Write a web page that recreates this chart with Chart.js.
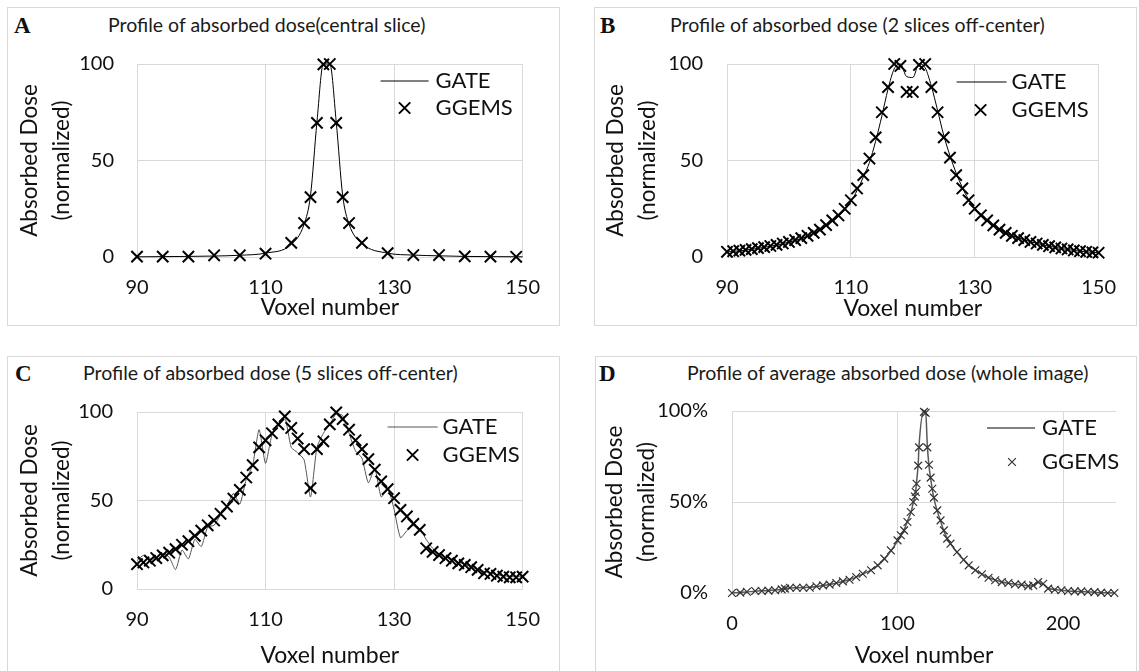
<!DOCTYPE html>
<html>
<head>
<meta charset="utf-8">
<script src="https://cdn.jsdelivr.net/npm/chart.js@4.4.1/dist/chart.umd.min.js"></script>
<style>
  html, body { margin: 0; padding: 0; background: #fff; }
  body { width: 1139px; height: 671px; overflow: hidden; position: relative; }
  .panel { position: absolute; border: 1px solid #d9d9d9; box-sizing: border-box; }
  .letter { position: absolute; font-family: "Liberation Serif", serif; font-weight: bold; font-size: 23px; line-height: 23px; color: #111; }
  .title { position: absolute; font-family: Lato, sans-serif; font-size: 19.5px; line-height: 22px; white-space: nowrap; color: #1a1a1a; }
  canvas { position: absolute; }
</style>
</head>
<body>
<div class="panel" style="left:7px;top:7px;width:553px;height:319px"></div>
<div class="panel" style="left:594px;top:7px;width:543px;height:319px"></div>
<div class="panel" style="left:7px;top:356px;width:553px;height:330px"></div>
<div class="panel" style="left:595px;top:356px;width:542px;height:330px"></div>

<div class="letter" style="left:14px;top:14px">A</div>
<div class="title" style="left:108px;top:14px">Profile of absorbed dose(central slice)</div>
<div class="letter" style="left:600px;top:14px">B</div>
<div class="title" style="left:670px;top:14px">Profile of absorbed dose (2 slices off-center)</div>
<div class="letter" style="left:15px;top:362px">C</div>
<div class="title" style="left:83px;top:362px">Profile of absorbed dose (5 slices off-center)</div>
<div class="letter" style="left:599px;top:362px">D</div>
<div class="title" style="left:687px;top:362px">Profile of average absorbed dose (whole image)</div>

<canvas id="cA" width="551" height="317" style="left:8px;top:8px"></canvas>
<canvas id="cB" width="540" height="317" style="left:595px;top:8px"></canvas>
<canvas id="cC" width="551" height="314" style="left:8px;top:357px"></canvas>
<canvas id="cD" width="540" height="314" style="left:596px;top:357px"></canvas>

<script>
// ---------------- DATA ----------------
// Panel A: central slice
const aGgemsX = [90, 94, 98, 102, 106, 110, 114, 116, 117, 118, 119, 120, 121, 122, 123, 125, 129, 133, 137, 141, 145, 149];
const aGgemsY = [0.2, 0.2, 0.2, 0.9, 0.9, 1.7, 7.3, 17.6, 31, 69.5, 99.8, 100, 69.5, 31, 17.6, 7.3, 2, 1, 1, 0.3, 0.2, 0.1];
const aGateX  = [90, 94, 98, 102, 106, 110, 114, 116, 117, 118, 119, 120, 121, 122, 123, 125, 129, 133, 137, 141, 145, 150];
const aGateY  = [0.1, 0.2, 0.3, 0.5, 0.9, 2.0, 6.5, 17, 32, 70, 100, 100, 70, 32, 17, 7, 2, 1, 0.6, 0.3, 0.2, 0.1];

// Panel B: 2 slices off-center (one value per voxel 90..150)
const bX = [90,91,92,93,94,95,96,97,98,99,100,101,102,103,104,105,106,107,108,109,110,111,112,113,114,115,116,117,118,119,120,121,122,123,124,125,126,127,128,129,130,131,132,133,134,135,136,137,138,139,140,141,142,143,144,145,146,147,148,149,150];
const bGgemsY = [2.7,3.0,3.3,3.7,4.1,4.6,5.1,5.7,6.3,7.0,7.8,8.8,9.8,11.0,12.5,14.2,16.5,19,21.5,25,29.4,35.5,42.4,51,62,75,88,100,99,85.5,85.5,99.5,100,88,75,62,51.5,42.4,35.5,29.4,25,21.6,19,16.4,14.2,12.5,11,9.8,8.8,7.8,7,6.3,5.6,5,4.4,3.9,3.4,3,2.7,2.4,2.2];
const bGateY  = [2.6,2.9,3.2,3.6,4.0,4.5,5.0,5.6,6.2,6.9,7.7,8.6,9.6,10.8,12.2,13.9,16.0,18.5,21.0,24.4,28.6,34.5,41.3,49,60,73,87,97.5,100,93.5,93,100,98,88.5,76,63,52.5,43.5,36,29.8,25.2,21.8,19.2,16.6,14.4,12.6,11.1,9.9,8.9,7.9,7.1,6.3,5.6,5.0,4.4,3.9,3.4,3.0,2.7,2.4,2.2];

// Panel C: 5 slices off-center (one value per voxel 90..150)
const cX = [90,91,92,93,94,95,96,97,98,99,100,101,102,103,104,105,106,107,108,109,110,111,112,113,114,115,116,117,118,119,120,121,122,123,124,125,126,127,128,129,130,131,132,133,134,135,136,137,138,139,140,141,142,143,144,145,146,147,148,149,150];
const cGgemsY = [14,15,16,17.5,19,20.5,22.5,25,27,30,33,36,38.7,42.5,46.6,51,56,63,70,80,84,88,93,97.5,91,85,79,57,79,83.4,93,99.8,96,90,84,79,73.4,67.4,60.8,56.4,51.3,44.7,41,36.8,33.4,23,21,19.2,17.4,16,14.5,13.6,12.3,10.8,8.9,8.5,7.5,7,6.6,6.6,7];
const cGateY  = [16,19,17,18,20,18,11,22,17,28,24,35,36,42,47,54,48,62,70,90,71,87,92,97,80,77,73,52,80,88,93,99,98,88,78,74,60,68,52,57,45,29,33,36,34,28,23,20,18,17,15,14,12.5,11,10,9,8,7.5,7,7,7];

// Panel D: average dose over whole image (percent)
const dX = [0,5,9,14,18,22,26,30,32,35,39,43,47,51,55,59,63,67,71,75,79,84,88,92,96,100,102,104,106,108,109.5,110.5,111,111.5,112.5,113,116,117,118,119,120,121,122,124,126,128,130,132,136,140,143,147,151,155,159,163,167,171,175,179,182,185,188,191,195,199,203,207,211,215,219,223,227,231];
const dGgemsY = [0,0.2,0.7,1.1,1.1,1.3,1.5,2.0,2.4,2.9,2.9,2.9,2.9,3.7,4.2,4.6,5.5,6.4,7.3,8.8,10.6,12.5,15.2,18.9,23.4,28.9,31.7,34.4,39,44.5,50,53,55.5,60,70,80,99.5,99,80,70.5,63.4,57.3,52.4,45.4,39.9,34.4,29.9,27.1,22.5,18.3,15.2,12.5,10.3,8.4,7.0,6.0,5.5,4.8,4.6,3.8,4.2,6.0,5.1,2.4,1.8,1.5,1.1,0.9,0.9,0.7,0.5,0.2,0,0];
const dGateY  = [0,0.3,0.6,1.0,1.2,1.3,1.6,2.1,2.5,2.8,2.9,3.0,3.1,3.6,4.1,4.7,5.4,6.3,7.4,8.7,10.4,12.6,15.0,18.6,23.0,28.5,31.5,34.8,39.5,44,49.5,53.5,56,61,71,81,100,100,81,70,63,57,52,45,39.5,34,30,27,22.3,18.2,15.3,12.6,10.4,8.5,7.1,6.1,5.4,4.9,4.5,3.9,4.3,5.8,4.9,2.6,1.9,1.5,1.1,0.9,0.8,0.6,0.4,0.2,0.1,0];

// Axis tick settings
const yTicksNorm = { min: 0, max: 100, step: 50 };
const xTicksABC = { min: 90, max: 150, step: 20 };
const xTicksD = { min: 0, max: 232, step: 100 };
const seriesNames = ['GATE', 'GGEMS'];
const yAxisTitle = ['Absorbed Dose', '(normalized)'];
const xAxisTitle = 'Voxel number';

// ---------------- RENDER ----------------
const FONT = 'Lato, "Open Sans", sans-serif';
const TXT = '#111111';
const GRID = '#d9d9d9';
const zip = (xs, ys) => xs.map((x, i) => ({ x: x, y: ys[i] }));

const innerLegend = {
  id: 'innerLegend',
  afterDatasetsDraw(chart, args, o) {
    const ctx = chart.ctx, ca = chart.chartArea;
    const gate = chart.data.datasets[0], gg = chart.data.datasets[1];
    ctx.save();
    ctx.strokeStyle = gate.borderColor;
    ctx.lineWidth = gate.borderWidth;
    ctx.beginPath();
    ctx.moveTo(ca.right - o.lineFrom, ca.top + o.row1);
    ctx.lineTo(ca.right - o.lineTo, ca.top + o.row1);
    ctx.stroke();
    ctx.strokeStyle = gg.borderColor;
    ctx.fillStyle = 'rgba(0,0,0,0)';
    ctx.lineWidth = gg.borderWidth;
    Chart.helpers.drawPoint(ctx, { pointStyle: 'crossRot', radius: gg.pointRadius, rotation: 0, borderWidth: gg.borderWidth }, ca.right - o.markX, ca.top + o.row2);
    ctx.fillStyle = TXT;
    ctx.font = '22px ' + FONT;
    ctx.textAlign = 'left';
    ctx.textBaseline = 'middle';
    ctx.fillText(gate.label, ca.right - o.textX, ca.top + o.row1);
    ctx.fillText(gg.label, ca.right - o.textX, ca.top + o.row2);
    ctx.restore();
  }
};

function build(id, p) {
  const cfg = {
    type: 'scatter',
    data: {
      datasets: [
        { label: seriesNames[0], data: zip(p.gateX, p.gateY), showLine: true, borderColor: p.lineColor, borderWidth: p.lineWidth,
          pointRadius: 0, pointHoverRadius: 0, cubicInterpolationMode: p.monotone ? 'monotone' : 'default', tension: p.tension, clip: false, order: 1 },
        { label: seriesNames[1], data: zip(p.ggX, p.ggY), showLine: false, pointStyle: 'crossRot', pointRadius: p.mr, pointHoverRadius: p.mr,
          borderColor: p.markColor, backgroundColor: 'rgba(0,0,0,0)', borderWidth: p.mw, clip: false, order: 0 }
      ]
    },
    options: {
      responsive: false, animation: false, devicePixelRatio: 1,
      layout: { padding: { left: 0, top: p.padTop, right: p.padRight, bottom: 0 } },
      plugins: { legend: { display: false }, tooltip: { enabled: false }, title: { display: false }, innerLegend: p.leg },
      scales: {
        x: {
          type: 'linear', min: p.xt.min, max: p.xt.max,
          grid: { color: GRID, lineWidth: 1, drawTicks: false },
          border: { display: true, color: GRID, width: 1 },
          ticks: { stepSize: p.xt.step, includeBounds: false, padding: p.xTickPad, color: TXT, font: { family: FONT, size: 20 }, maxRotation: 0 },
          title: { display: true, text: xAxisTitle, color: TXT, font: { family: FONT, size: 23, lineHeight: 1.2 }, padding: { top: 0, bottom: p.xTitlePad } },
          afterFit: s => { s.height = p.xH; }
        },
        y: {
          type: 'linear', min: yTicksNorm.min, max: yTicksNorm.max,
          grid: { color: GRID, lineWidth: 1, drawTicks: false },
          border: { display: true, color: GRID, width: 1 },
          ticks: { stepSize: yTicksNorm.step, padding: p.yTickPad, color: TXT, font: { family: FONT, size: 20 },
                   callback: v => p.pct ? v + '%' : v },
          title: { display: true, text: yAxisTitle, color: TXT, font: { family: FONT, size: 22.5, lineHeight: 1.4 }, padding: { top: p.yTitlePad, bottom: 0 } },
          afterFit: s => { s.width = p.yW; }
        }
      }
    },
    plugins: [innerLegend]
  };
  return new Chart(document.getElementById(id), cfg);
}

build('cA', { gateX: aGateX, gateY: aGateY, ggX: aGgemsX, ggY: aGgemsY, lineColor: '#000', lineWidth: 1, markColor: '#000', mr: 8, mw: 2,
  tension: 0, monotone: true, padTop: 56, padRight: 32, xH: 68, yW: 129, xt: xTicksABC, xTickPad: 19, xTitlePad: 4, yTickPad: 23, yTitlePad: 6,
  leg: { lineFrom: 142, lineTo: 94, textX: 87, markX: 118, row1: 17, row2: 44 } });
build('cB', { gateX: bX, gateY: bGateY, ggX: bX, ggY: bGgemsY, lineColor: '#000', lineWidth: 1, markColor: '#000', mr: 8, mw: 2,
  tension: 0, monotone: true, padTop: 56, padRight: 20, xH: 68, yW: 132, xt: xTicksABC, xTickPad: 19, xTitlePad: 3, yTickPad: 24, yTitlePad: 5,
  leg: { lineFrom: 142, lineTo: 92, textX: 87, markX: 118, row1: 18, row2: 46 } });
build('cC', { gateX: cX, gateY: cGateY, ggX: cX, ggY: cGgemsY, lineColor: '#555', lineWidth: 1, markColor: '#000', mr: 8, mw: 2,
  tension: 0.2, monotone: false, padTop: 55, padRight: 32, xH: 82, yW: 129, xt: xTicksABC, xTickPad: 19, xTitlePad: 2, yTickPad: 24, yTitlePad: 6,
  leg: { lineFrom: 135, lineTo: 85, textX: 80, markX: 110, row1: 15, row2: 43 } });
build('cD', { gateX: dX, gateY: dGateY, ggX: dX, ggY: dGgemsY, lineColor: '#595959', lineWidth: 1.5, markColor: '#333', mr: 5.5, mw: 1.2,
  tension: 0, monotone: true, padTop: 54, padRight: 20, xH: 78, yW: 136, xt: xTicksD, xTickPad: 19, xTitlePad: 2, yTickPad: 24, yTitlePad: 3, pct: true,
  leg: { lineFrom: 129, lineTo: 81, textX: 74, markX: 104, row1: 17, row2: 51 } });
</script>
</body>
</html>
